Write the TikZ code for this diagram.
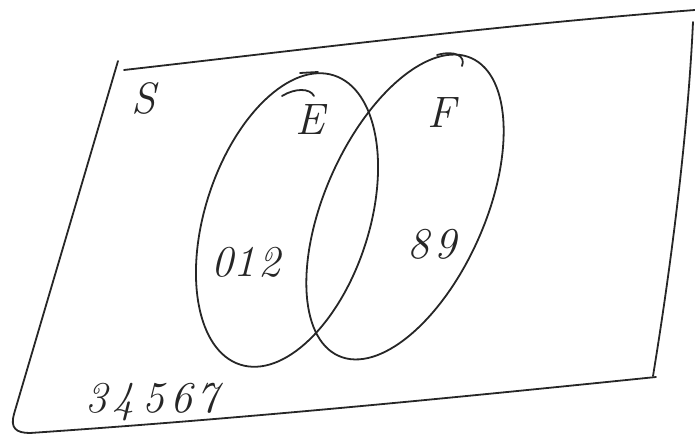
\documentclass[tikz,border=0pt]{standalone}
\begin{document}
\begin{tikzpicture}[x=1pt,y=-1pt,
  pen/.style={draw=black!85,line width=1.8pt,line cap=round,line join=round},
  hand/.style={text=black!85,font=\fontsize{44}{46}\selectfont\itshape,inner sep=0pt}]
\useasboundingbox (0,0) rectangle (695,435);
% universal set S (hand-drawn quadrilateral)
\draw[pen] (118,61) -- (14,414) .. controls (10,428) and (16,433) .. (30,433);
\draw[pen] (30,433) .. controls (250,418) and (450,398) .. (656,377);
\draw[pen] (124,70) .. controls (300,50) and (500,25) .. (695,10);
\draw[pen] (693,22) .. controls (688,130) and (672,260) .. (653,376);
% sets E and F
\draw[pen,rotate around={72:(287,220)}] (287,220) ellipse[x radius=152,y radius=82];
\draw[pen,rotate around={66:(405,207)}] (405,207) ellipse[x radius=163,y radius=80];
% small hooks
\draw[pen] (282,96) .. controls (295,88) and (310,88) .. (314,96);
\draw[pen] (437,55) .. controls (455,50) and (466,56) .. (462,66);
\draw[pen] (300,73) -- (318,72);
% labels
\node[hand] (s) at (144,98) {S};
\node[hand] (e) at (310,120) {E};
\node[hand] (f) at (442,113) {F};
\node[hand] (r1) at (246,262) {0\hspace{1pt}1\hspace{3pt}2};
\node[hand] (r2) at (432,244) {8\hspace{6pt}9};
\node[hand] (r3) at (152,402) {3\hspace{6pt}4\hspace{8pt}5\hspace{6pt}6\hspace{4pt}7};
\end{tikzpicture}
\end{document}
